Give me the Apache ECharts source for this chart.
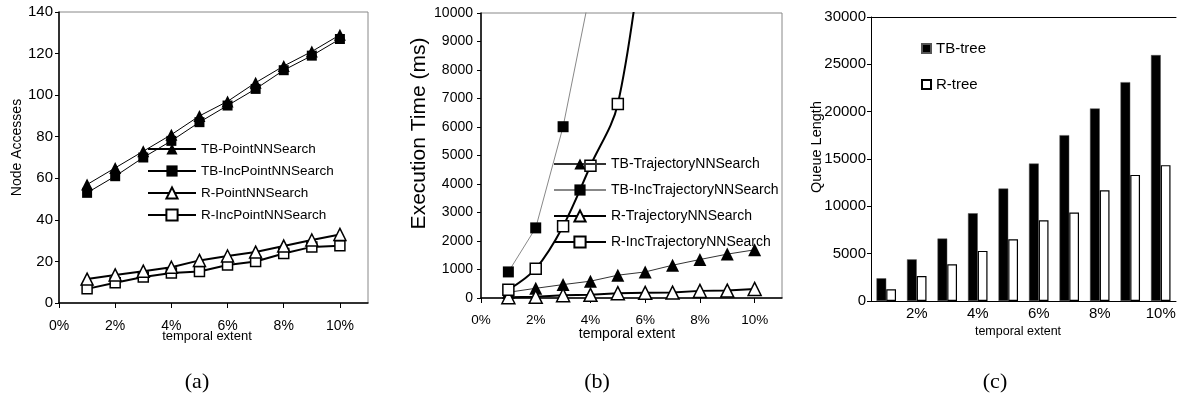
<!DOCTYPE html>
<html>
<head>
<meta charset="utf-8">
<script src="https://cdn.jsdelivr.net/npm/echarts@6/dist/echarts.min.js"></script>
<style>
  html, body { margin: 0; padding: 0; background: #fff; }
  #chart { width: 1184px; height: 399px; }
</style>
</head>
<body>
<div id="chart"></div>
<script>
// temporal extent (%)
const extents = [1, 2, 3, 4, 5, 6, 7, 8, 9, 10];
const extentLabels = ['1%', '2%', '3%', '4%', '5%', '6%', '7%', '8%', '9%', '10%'];

// (a) node accesses
const tbPointNN = [57, 65, 73, 81, 90, 97, 106, 114, 121, 129];
const tbIncPointNN = [53, 61, 70, 78, 87, 95, 103, 112, 119, 127];
const rPointNN = [11.5, 13.5, 15.3, 17.2, 20.5, 22.6, 24.5, 27.4, 30.3, 33];
const rIncPointNN = [6.8, 9.7, 12.5, 14.4, 15.2, 18.3, 20, 23.8, 27, 27.6];

// (b) execution time (ms), values above 10000 run off the chart
const tbTrajNN = [200, 340, 470, 590, 800, 915, 1150, 1350, 1540, 1690];
const tbIncTrajNN = [915, 2460, 6010, 10800, null, null, null, null, null, null];
const rTrajNN = [30, 40, 100, 110, 170, 180, 190, 250, 260, 320];
const rIncTrajNN = [290, 1030, 2520, 4640, 6810, 13200, null, null, null, null];

// (c) queue length
const tbTreeQueue = [2400, 4400, 6600, 9270, 11880, 14520, 17520, 20340, 23120, 25980];
const rTreeQueue = [1230, 2640, 3880, 5290, 6520, 8530, 9340, 11700, 13320, 14350];

const FONT = '"Liberation Sans", Arial, sans-serif';
const pairs = (ys) => extents.map((x, i) => [x, ys[i]]);
const pct = (v) => (v % 2 === 0 ? v + '%' : '');
const plain = (v) => String(v);

function lineSeries(name, idx, ys, opts) {
  return Object.assign({
    name: name,
    type: 'line',
    xAxisIndex: idx,
    yAxisIndex: idx,
    data: pairs(ys),
    symbolSize: 11,
    lineStyle: { color: '#000', width: 1 },
    itemStyle: { color: '#000' },
    emphasis: { disabled: true },
    animation: false
  }, opts);
}
const filled = { color: '#000' };
const open = { color: '#fff', borderColor: '#000', borderWidth: 1.5 };

function valueX(idx) {
  return {
    type: 'value', gridIndex: idx, min: 0, max: 11, interval: 2,
    name: 'temporal extent', nameLocation: 'middle', nameMoveOverlap: false,
    axisLine: { lineStyle: { color: '#000', width: 1.5 } },
    axisTick: { length: 5, lineStyle: { color: '#000' } },
    splitLine: { show: false },
    axisLabel: { formatter: pct, color: '#000', fontFamily: FONT, fontSize: 14, margin: 16, showMaxLabel: false }
  };
}
const caption = { fontFamily: '"Liberation Serif", serif', fontSize: 22, fontWeight: 'normal', color: '#000' };

const chart = echarts.init(document.getElementById('chart'));
chart.setOption({
  backgroundColor: '#fff',
  title: [
    { text: '(a)', left: 192, top: 366, textAlign: 'center', textStyle: caption },
    { text: '(b)', left: 592, top: 366, textAlign: 'center', textStyle: caption },
    { text: '(c)', left: 990, top: 366, textAlign: 'center', textStyle: caption }
  ],
  grid: [
    { left: 59, top: 12, width: 309, height: 291, show: true, borderColor: '#888', borderWidth: 1 },
    { left: 481, top: 13, width: 301, height: 285, show: true, borderColor: '#888', borderWidth: 1 },
    { left: 871, top: 17, width: 305, height: 284 }
  ],
  legend: [
    {
      orient: 'vertical', left: 147, top: 142, padding: 0, itemWidth: 48, itemHeight: 14, itemGap: 8,
      textStyle: { fontFamily: FONT, fontSize: 13.5, color: '#000', lineHeight: 14 },
      data: ['TB-PointNNSearch', 'TB-IncPointNNSearch', 'R-PointNNSearch', 'R-IncPointNNSearch']
    },
    {
      orient: 'vertical', left: 553, top: 157, padding: 0, itemWidth: 52, itemHeight: 14, itemGap: 12,
      textStyle: { fontFamily: FONT, fontSize: 14, color: '#000', lineHeight: 14 },
      data: ['TB-TrajectoryNNSearch', 'TB-IncTrajectoryNNSearch', 'R-TrajectoryNNSearch', 'R-IncTrajectoryNNSearch']
    },
    {
      orient: 'vertical', left: 921, top: 41, padding: 0, itemWidth: 9, itemHeight: 9, itemGap: 21, icon: 'rect',
      textStyle: { fontFamily: FONT, fontSize: 15, color: '#000', lineHeight: 15 },
      data: ['TB-tree', 'R-tree']
    }
  ],
  xAxis: [
    Object.assign(valueX(0), { nameGap: 27, nameTextStyle: { fontFamily: FONT, fontSize: 13, color: '#000', padding: [0, 13, 0, 0] } }),
    Object.assign(valueX(1), { nameGap: 29, nameTextStyle: { fontFamily: FONT, fontSize: 14, color: '#000', padding: [0, 9, 0, 0] },
      axisLabel: { formatter: pct, color: '#000', fontFamily: FONT, fontSize: 13.5, margin: 15, showMaxLabel: false } }),
    {
      type: 'category', gridIndex: 2, data: extentLabels,
      name: 'temporal extent', nameLocation: 'middle', nameGap: 24, nameMoveOverlap: false,
      nameTextStyle: { fontFamily: FONT, fontSize: 12.5, color: '#000', padding: [0, 11, 0, 0] },
      axisLine: { lineStyle: { color: '#000', width: 1 } },
      axisTick: { length: 4, interval: 0, lineStyle: { color: '#000' } },
      axisLabel: { interval: (i) => i % 2 === 1, color: '#000', fontFamily: FONT, fontSize: 15, margin: 5 }
    },
    {
      type: 'category', gridIndex: 2, position: 'top', data: extentLabels,
      axisLine: { lineStyle: { color: '#000', width: 1 } },
      axisTick: { show: false }, axisLabel: { show: false }
    }
  ],
  yAxis: [
    {
      type: 'value', gridIndex: 0, min: 0, max: 140, interval: 20,
      name: 'Node Accesses', nameLocation: 'middle', nameGap: 35, nameRotate: 90, nameMoveOverlap: false,
      nameTextStyle: { fontFamily: FONT, fontSize: 14, color: '#000', padding: [0, 0, 0, 20] },
      axisLine: { show: true, lineStyle: { color: '#000', width: 1.5 } },
      axisTick: { show: true, length: 4, lineStyle: { color: '#000' } },
      splitLine: { show: false },
      axisLabel: { formatter: plain, color: '#000', fontFamily: FONT, fontSize: 15, margin: 6 }
    },
    {
      type: 'value', gridIndex: 1, min: 0, max: 10000, interval: 1000,
      name: 'Execution Time (ms)', nameLocation: 'middle', nameGap: 51, nameRotate: 90, nameMoveOverlap: false,
      nameTextStyle: { fontFamily: FONT, fontSize: 21, color: '#000', padding: [0, 0, 0, 44] },
      axisLine: { show: true, lineStyle: { color: '#000', width: 1.5 } },
      axisTick: { show: true, length: 4, lineStyle: { color: '#000' } },
      splitLine: { show: false },
      axisLabel: { formatter: plain, color: '#000', fontFamily: FONT, fontSize: 14, margin: 8 }
    },
    {
      type: 'value', gridIndex: 2, min: 0, max: 30000, interval: 5000,
      name: 'Queue Length', nameLocation: 'middle', nameGap: 47, nameRotate: 90, nameMoveOverlap: false,
      nameTextStyle: { fontFamily: FONT, fontSize: 14.5, color: '#000', padding: [0, 0, 0, 24] },
      axisLine: { show: true, lineStyle: { color: '#000', width: 1 } },
      axisTick: { show: true, length: 4, lineStyle: { color: '#000' } },
      splitLine: { show: false },
      axisLabel: { formatter: plain, color: '#000', fontFamily: FONT, fontSize: 15, margin: 5 }
    }
  ],
  series: [
    lineSeries('TB-IncPointNNSearch', 0, tbIncPointNN, { symbol: 'rect', symbolSize: 10, itemStyle: filled }),
    lineSeries('TB-PointNNSearch', 0, tbPointNN, { symbol: 'triangle', symbolSize: 12, itemStyle: filled }),
    lineSeries('R-IncPointNNSearch', 0, rIncPointNN, { symbol: 'rect', symbolSize: 10, itemStyle: open, lineStyle: { color: '#000', width: 2 } }),
    lineSeries('R-PointNNSearch', 0, rPointNN, { symbol: 'triangle', symbolSize: 12, itemStyle: open, lineStyle: { color: '#000', width: 2 } }),

    lineSeries('TB-IncTrajectoryNNSearch', 1, tbIncTrajNN, { symbol: 'rect', symbolSize: 11, itemStyle: filled, lineStyle: { color: '#888', width: 1 } }),
    lineSeries('TB-TrajectoryNNSearch', 1, tbTrajNN, { symbol: 'triangle', symbolSize: 13, itemStyle: filled, lineStyle: { color: '#333', width: 1 } }),
    lineSeries('R-TrajectoryNNSearch', 1, rTrajNN, { symbol: 'triangle', symbolSize: 13, itemStyle: open, lineStyle: { color: '#000', width: 2 } }),
    lineSeries('R-IncTrajectoryNNSearch', 1, rIncTrajNN, { symbol: 'rect', symbolSize: 11, smooth: 0.35, itemStyle: open, lineStyle: { color: '#000', width: 2 } }),

    {
      name: 'TB-tree', type: 'bar', xAxisIndex: 2, yAxisIndex: 2, data: tbTreeQueue,
      barGap: '0%', barCategoryGap: '36%', animation: false,
      itemStyle: { color: '#000', borderColor: '#555', borderWidth: 0.5 }
    },
    {
      name: 'R-tree', type: 'bar', xAxisIndex: 2, yAxisIndex: 2, data: rTreeQueue,
      barGap: '0%', barCategoryGap: '36%', animation: false,
      itemStyle: { color: '#fff', borderColor: '#000', borderWidth: 1.2 }
    }
  ]
});
</script>
</body>
</html>
